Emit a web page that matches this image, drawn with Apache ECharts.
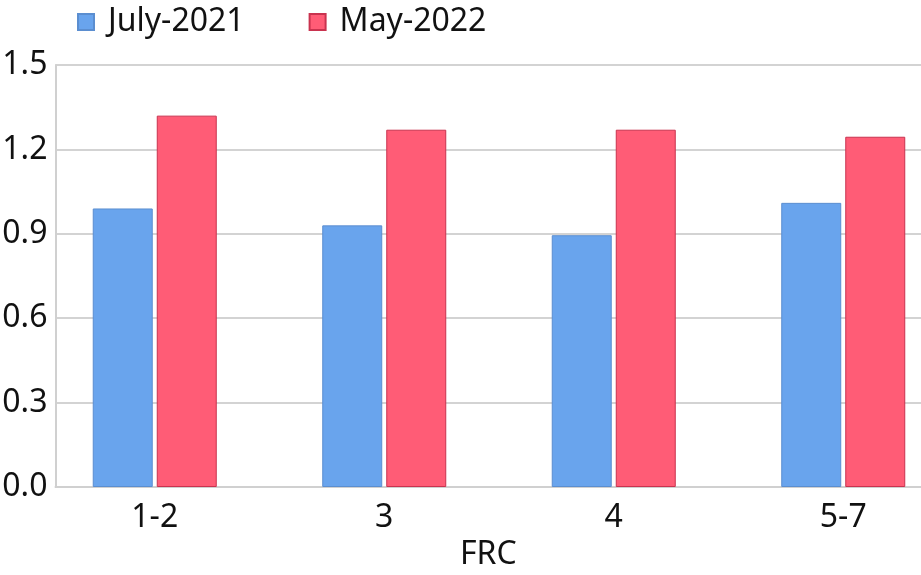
<!DOCTYPE html>
<html>
<head>
<meta charset="utf-8">
<script src="https://cdn.jsdelivr.net/npm/echarts@6/dist/echarts.min.js"></script>
<style>html,body{margin:0;padding:0;background:#fff}#c{width:921px;height:575px}</style>
</head>
<body>
<div id="c"></div>
<script>
const categories = ['1-2', '3', '4', '5-7'];
const july2021 = [0.99, 0.93, 0.895, 1.01];
const may2022 = [1.32, 1.27, 1.27, 1.245];
const seriesNames = ['July-2021', 'May-2022'];
const yTicks = { min: 0, max: 1.5, interval: 0.3 };
const xAxisName = 'FRC';

const font = 'Noto Sans';
const fs = 32;
const chart = echarts.init(document.getElementById('c'), null, { renderer: 'canvas' });
chart.setOption({
  animation: false,
  textStyle: { fontFamily: font },
  legend: {
    left: 77, top: 6, padding: 0,
    itemWidth: 16, itemHeight: 16, itemGap: 64,
    icon: 'rect',
    textStyle: { fontFamily: font, fontSize: fs, color: '#111', padding: [0, 0, 0, 9] },
    data: seriesNames
  },
  grid: [
    { left: 55.5, right: 0, top: 65, bottom: 88, containLabel: false, outerBoundsMode: 'none' },
    { left: 40, right: -37, top: 65, bottom: 88, containLabel: false, outerBoundsMode: 'none' }
  ],
  xAxis: [
    {
      gridIndex: 0, type: 'value', min: 0, max: 1,
      axisLine: { show: true, lineStyle: { color: '#d0d0d0', width: 2 } },
      axisTick: { show: false }, axisLabel: { show: false }, splitLine: { show: false },
      name: xAxisName, nameLocation: 'middle', nameGap: 52,
      nameTextStyle: { fontFamily: font, fontSize: fs, color: '#111' }
    },
    {
      gridIndex: 1, type: 'category', data: categories,
      axisLine: { show: false }, axisTick: { show: false },
      axisLabel: { fontFamily: font, fontSize: fs, color: '#111', margin: 15 }
    }
  ],
  yAxis: [
    {
      gridIndex: 0, type: 'value', min: yTicks.min, max: yTicks.max, interval: yTicks.interval,
      axisLine: { show: true, lineStyle: { color: '#d0d0d0', width: 2 } },
      axisTick: { show: false },
      axisLabel: { fontFamily: font, fontSize: fs, color: '#111', margin: 8,
        formatter: v => v.toFixed(1) },
      splitLine: { show: true, lineStyle: { color: '#d3d3d3', width: 2 } }
    },
    {
      gridIndex: 1, type: 'value', min: yTicks.min, max: yTicks.max, interval: yTicks.interval,
      show: false, splitLine: { show: false }
    }
  ],
  series: [
    {
      name: seriesNames[0], type: 'bar', xAxisIndex: 1, yAxisIndex: 1,
      data: july2021, barWidth: 60, barGap: '6.7%',
      itemStyle: { color: '#69a4ed', borderColor: '#5b8ed0', borderWidth: 1 }
    },
    {
      name: seriesNames[1], type: 'bar', xAxisIndex: 1, yAxisIndex: 1,
      data: may2022, barWidth: 60, barGap: '6.7%',
      itemStyle: { color: '#ff5c76', borderColor: '#c9334f', borderWidth: 1 }
    }
  ]
});
</script>
</body>
</html>
